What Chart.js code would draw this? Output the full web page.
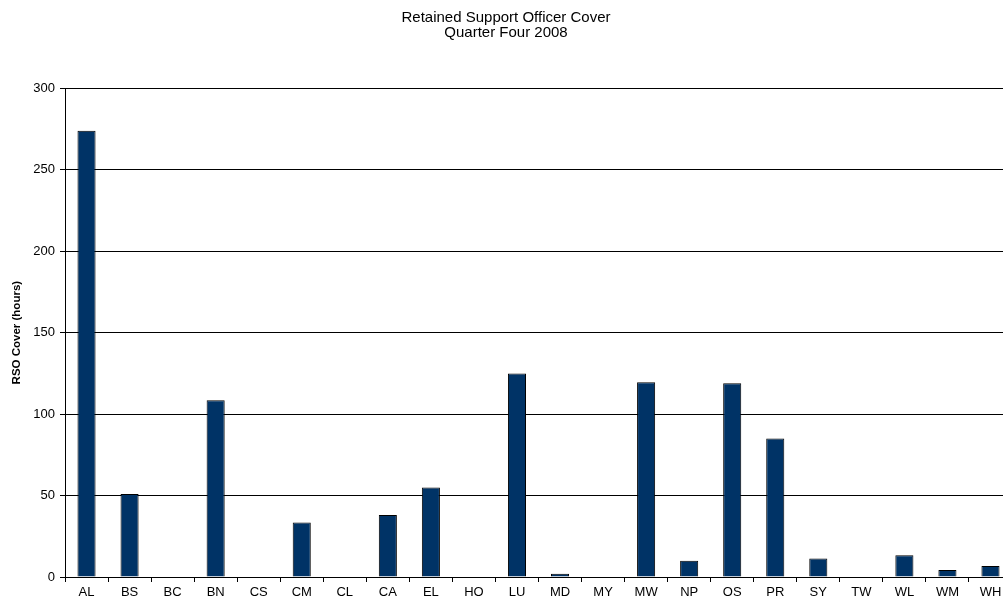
<!DOCTYPE html>
<html>
<head>
<meta charset="utf-8">
<script src="https://cdn.jsdelivr.net/npm/chart.js@4/dist/chart.umd.min.js"></script>
<style>
html,body{margin:0;padding:0;background:#fff;overflow:hidden;width:1003px;height:604px;}
canvas{display:block;}
</style>
</head>
<body>
<canvas id="c" width="1012" height="604"></canvas>
<script>
const categories = ["AL","BS","BC","BN","CS","CM","CL","CA","EL","HO","LU","MD","MY","MW","NP","OS","PR","SY","TW","WL","WM","WH"];
const rsoCover = [274, 51, 0, 108.5, 0, 33.5, 0, 38, 55, 0, 125, 2, 0, 119.5, 10, 119, 85, 11.3, 0, 13.3, 4.3, 6.8];
const titleLines = ["Retained Support Officer Cover", "Quarter Four 2008"];
const yAxisTitle = "RSO Cover (hours)";
const yTicks = [0, 50, 100, 150, 200, 250, 300];

const FONT = "'Liberation Sans', Arial, sans-serif";

new Chart(document.getElementById('c'), {
  type: 'bar',
  data: {
    labels: categories,
    datasets: [{
      data: rsoCover,
      backgroundColor: '#003366',
      borderColor: '#000000',
      borderWidth: 1,
      borderSkipped: 'bottom',
      barPercentage: 0.42,
      categoryPercentage: 1.0
    }]
  },
  options: {
    responsive: false,
    animation: false,
    devicePixelRatio: 1,
    layout: { padding: { left: 0, right: 0, top: 0, bottom: 0 } },
    plugins: {
      legend: { display: false },
      tooltip: { enabled: false },
      title: {
        display: true,
        text: titleLines,
        color: '#000',
        font: { family: FONT, size: 15, weight: 'normal', lineHeight: 1.0 },
        padding: { top: 10.5, bottom: 47.8 }
      }
    },
    scales: {
      x: {
        offset: true,
        grid: {
          offset: true,
          drawOnChartArea: false,
          drawTicks: true,
          tickLength: 5,
          color: '#000'
        },
        border: { color: '#000', width: 1 },
        ticks: {
          color: '#000',
          font: { family: FONT, size: 13 },
          padding: 3,
          maxRotation: 0,
          autoSkip: false
        },
        afterFit: (s) => { s.height = 27; }
      },
      y: {
        min: 0,
        max: 300,
        afterBuildTicks: (s) => { s.ticks = yTicks.map(v => ({ value: v })); },
        grid: {
          color: '#000',
          lineWidth: 1,
          drawTicks: true,
          tickLength: 5
        },
        border: { color: '#000', width: 1 },
        ticks: {
          color: '#000',
          font: { family: FONT, size: 13 },
          padding: 5
        },
        title: {
          display: true,
          text: yAxisTitle,
          color: '#000',
          font: { family: FONT, size: 11.5, weight: 'bold' },
          padding: { top: 10, bottom: 0 }
        },
        afterFit: (s) => { s.width = 65; }
      }
    }
  }
});
</script>
</body>
</html>
